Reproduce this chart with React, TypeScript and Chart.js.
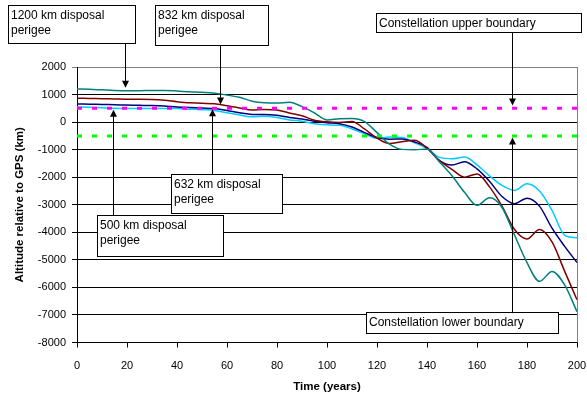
import React, { useEffect, useRef } from 'react';
import { Chart, registerables } from 'chart.js';

Chart.register(...registerables);

// ---- data (years, altitude relative to GPS in km) ----
const years = [
  0, 5, 10, 15, 20, 25, 30, 35, 40, 45, 50, 55, 60, 65, 70, 75, 80, 85, 90, 95, 100,
  105, 110, 115, 120, 125, 130, 135, 140, 145, 150, 155, 160, 165, 170, 175, 180, 185, 190, 195, 200,
];

const perigee1200 = [
  1200, 1190, 1170, 1150, 1140, 1140, 1150, 1150, 1130, 1100, 1080, 1050, 980, 900, 760, 700, 690, 720, 560, 330, 80,
  120, 130, 20, -380, -800, -990, -1000, -980, -1450, -1950, -2550, -3020, -2750, -3100, -4100, -5100, -5780, -5420, -5900, -6880,
];

const perigee832 = [
  870, 860, 850, 840, 830, 830, 820, 790, 740, 700, 680, 670, 590, 510, 440, 460, 440, 330, 230, 70, 10,
  -10, 20, -250, -580, -780, -710, -660, -950, -1400, -1720, -2000, -1880, -2350, -3050, -3900, -4240, -3900, -4350, -5400, -6450,
];

const perigee632 = [
  660, 650, 640, 630, 620, 610, 600, 580, 550, 530, 510, 490, 420, 340, 280, 280, 250, 170, 110, 30, -20,
  -60, -180, -380, -560, -620, -610, -720, -920, -1400, -1560, -1440, -1700, -2150, -2700, -2960, -2760, -3050, -3850, -4500, -5100,
];

const perigee500 = [
  550, 540, 520, 500, 490, 490, 490, 490, 490, 470, 450, 420, 340, 260, 190, 210, 170, 80, 30, -60, -100,
  -110, -250, -420, -590, -540, -560, -750, -960, -1280, -1330, -1270, -1550, -1950, -2300, -2480, -2240, -2500, -3200, -4100, -4200,
];

const upperBoundary = [500, 500];
const lowerBoundary = [-500, -500];
const boundaryYears = [0, 200];

const seriesNames = ['1200 km', '832 km', '632 km', '500 km'];

const FONT = "'Liberation Sans', Arial, sans-serif";

// annotation callouts: box in canvas pixels, arrow tip in data units
const callouts = [
  { lines: ['1200 km disposal', 'perigee'], box: [8, 5, 135, 43], tip: [19.2, 1250], dir: 'down' },
  { lines: ['832 km disposal', 'perigee'], box: [155, 5, 268, 45], tip: [57.2, 640], dir: 'down' },
  { lines: ['Constellation upper boundary'], box: [376, 13, 581, 32], tip: [174.1, 600], dir: 'down' },
  { lines: ['632 km disposal', 'perigee'], box: [171, 174, 282, 213], tip: [53.9, 470], dir: 'up' },
  { lines: ['500 km disposal', 'perigee'], box: [97, 215, 223, 256], tip: [14.3, 450], dir: 'up' },
  { lines: ['Constellation lower boundary'], box: [366, 312, 558, 333], tip: [174.1, -560], dir: 'up' },
];

const toPoints = (xs: number[], ys: number[]) => xs.map((x, i) => ({ x, y: ys[i] }));

const annotationPlugin = {
  id: 'callouts',
  afterDatasetsDraw(chart: any) {
    const ctx = chart.ctx;
    const xs = chart.scales.x;
    const ys = chart.scales.y;
    const area = chart.chartArea;
    ctx.save();
    // right border of plot area
    ctx.strokeStyle = '#808080';
    ctx.lineWidth = 1;
    ctx.beginPath();
    const rx = Math.round(area.right) + 0.5;
    ctx.moveTo(rx, area.top);
    ctx.lineTo(rx, area.bottom);
    ctx.stroke();

    // arrows
    for (const c of callouts) {
      const [x0, y0, x1, y1] = c.box;
      const tx = Math.round(xs.getPixelForValue(c.tip[0])) + 0.5;
      const ty = ys.getPixelForValue(c.tip[1]);
      const tailY = c.dir === 'down' ? y1 : y0;
      const sgn = c.dir === 'down' ? 1 : -1;
      ctx.strokeStyle = '#000';
      ctx.fillStyle = '#000';
      ctx.lineWidth = 1;
      ctx.beginPath();
      ctx.moveTo(tx, tailY);
      ctx.lineTo(tx, ty - sgn * 6);
      ctx.stroke();
      ctx.beginPath();
      ctx.moveTo(tx, ty);
      ctx.lineTo(tx - 3.5, ty - sgn * 7);
      ctx.lineTo(tx + 3.5, ty - sgn * 7);
      ctx.closePath();
      ctx.fill();
    }

    // boxes
    ctx.font = `12px ${FONT}`;
    ctx.textBaseline = 'alphabetic';
    ctx.textAlign = 'left';
    for (const c of callouts) {
      const [x0, y0, x1, y1] = c.box;
      ctx.fillStyle = '#fff';
      ctx.fillRect(x0, y0, x1 - x0, y1 - y0);
      ctx.strokeStyle = '#000';
      ctx.lineWidth = 1;
      ctx.strokeRect(Math.round(x0) + 0.5, Math.round(y0) + 0.5, Math.round(x1 - x0), Math.round(y1 - y0));
      ctx.fillStyle = '#000';
      c.lines.forEach((t, i) => {
        ctx.fillText(t, x0 + 3, y0 + 14 + i * 15);
      });
    }
    ctx.restore();
  },
};

export default function App() {
  const ref = useRef<HTMLCanvasElement>(null);

  useEffect(() => {
    if (!ref.current) return;
    const lineDs = (label: string, data: number[], color: string) => ({
      label,
      data: toPoints(years, data),
      borderColor: color,
      backgroundColor: color,
      borderWidth: 1.5,
      pointRadius: 0,
      fill: false,
      cubicInterpolationMode: 'monotone' as const,
    });
    const chart = new Chart(ref.current, {
      type: 'line',
      data: {
        datasets: [
          {
            label: 'Constellation upper boundary',
            data: toPoints(boundaryYears, upperBoundary),
            borderColor: '#FF00FF',
            borderWidth: 3,
            borderDash: [5, 10],
            borderCapStyle: 'butt',
            pointRadius: 0,
            fill: false,
          },
          {
            label: 'Constellation lower boundary',
            data: toPoints(boundaryYears, lowerBoundary),
            borderColor: '#00FF00',
            borderWidth: 3,
            borderDash: [5, 10],
            borderCapStyle: 'butt',
            pointRadius: 0,
            fill: false,
          },
          lineDs(seriesNames[0], perigee1200, '#008080'),
          lineDs(seriesNames[1], perigee832, '#800000'),
          lineDs(seriesNames[2], perigee632, '#000080'),
          lineDs(seriesNames[3], perigee500, '#00CCFF'),
        ],
      },
      options: {
        responsive: false,
        animation: false,
        devicePixelRatio: 1,
        layout: { padding: { top: 67, right: 10, left: 0, bottom: 0 } },
        plugins: { legend: { display: false }, tooltip: { enabled: false } },
        scales: {
          x: {
            type: 'linear',
            min: 0,
            max: 200,
            ticks: {
              stepSize: 20,
              color: '#000',
              font: { family: FONT, size: 11 },
              padding: 12,
              maxRotation: 0,
              callback: (v: any) => String(v),
            },
            grid: { drawOnChartArea: false, drawTicks: true, tickLength: 5, color: '#000' },
            border: { display: true, color: '#000', width: 1 },
            title: {
              display: true,
              text: 'Time (years)',
              color: '#000',
              font: { family: FONT, size: 11.5, weight: 'bold' },
              padding: { top: 0, bottom: 4 },
            },
            afterFit: (s: any) => {
              s.height = 55.5;
              s.paddingRight = 0;
              s.paddingLeft = 0;
            },
          },
          y: {
            type: 'linear',
            min: -8000,
            max: 2000,
            ticks: {
              stepSize: 1000,
              color: '#000',
              font: { family: FONT, size: 11 },
              padding: 6,
              callback: (v: any) => String(v),
            },
            grid: {
              drawTicks: true,
              tickLength: 5,
              color: (c: any) => (c.tick && c.tick.value === 2000 ? '#808080' : '#000'),
            },
            border: { display: true, color: '#000', width: 1 },
            title: {
              display: true,
              text: 'Altitude relative to GPS (km)',
              color: '#000',
              font: { family: FONT, size: 11.5, weight: 'bold' },
              padding: { top: 13, bottom: 0 },
            },
            afterFit: (s: any) => {
              s.width = 77;
              s.paddingTop = 0;
              s.paddingBottom = 0;
            },
          },
        },
      },
      plugins: [annotationPlugin],
    });
    return () => chart.destroy();
  }, []);

  return (
    <div style={{ position: 'fixed', left: 0, top: 0, width: 587, height: 398, background: '#fff' }}>
      <canvas ref={ref} width={587} height={398} style={{ width: 587, height: 398 }} />
    </div>
  );
}
